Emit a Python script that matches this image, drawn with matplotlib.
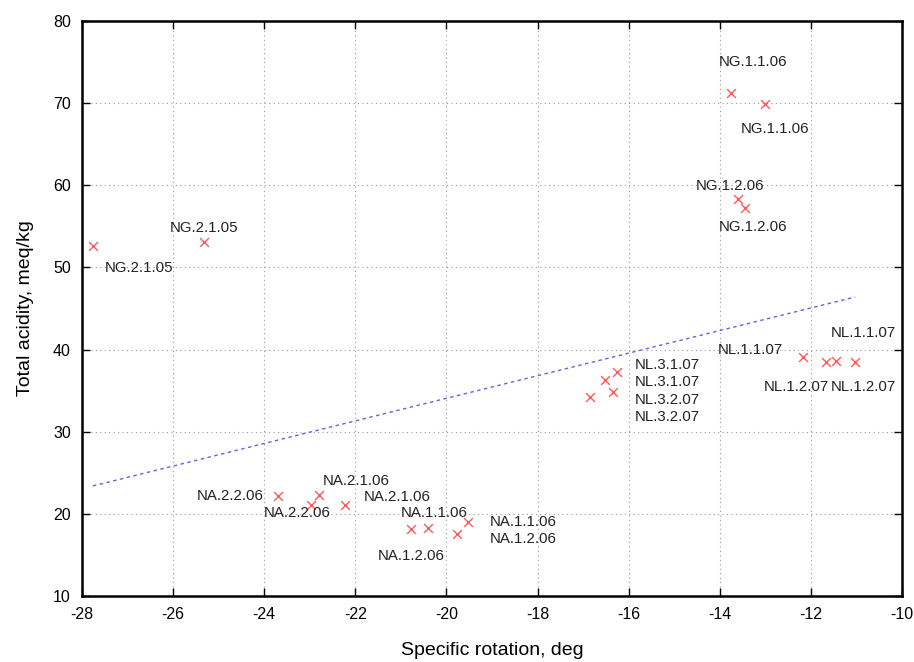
import numpy as np
import matplotlib.pyplot as plt

plt.rcParams['font.family'] = ['Liberation Sans', 'DejaVu Sans']
plt.rcParams['axes.unicode_minus'] = False

# sample points: specific rotation (deg) vs total acidity (meq/kg)
rotation = [-27.76, -25.32, -13.76, -13.01, -13.60, -13.45,
            -12.17, -11.67, -11.45, -11.03,
            -16.26, -16.52, -16.35, -16.85,
            -23.70, -22.97, -22.80, -22.23,
            -20.41, -19.53, -19.77, -20.78]
acidity = [52.6, 53.1, 71.2, 69.9, 58.3, 57.2,
           39.1, 38.5, 38.6, 38.5,
           37.3, 36.3, 34.8, 34.2,
           22.2, 21.05, 22.3, 21.05,
           18.25, 19.0, 17.5, 18.1]
names = ['NG.2.1.05', 'NG.2.1.05', 'NG.1.1.06', 'NG.1.1.06', 'NG.1.2.06', 'NG.1.2.06',
         'NL.1.1.07', 'NL.1.2.07', 'NL.1.2.07', 'NL.1.1.07',
         'NL.3.1.07', 'NL.3.1.07', 'NL.3.2.07', 'NL.3.2.07',
         'NA.2.2.06', 'NA.2.2.06', 'NA.2.1.06', 'NA.2.1.06',
         'NA.1.1.06', 'NA.1.1.06', 'NA.1.2.06', 'NA.1.2.06']

# label placement (pixel offsets from the point, alignment)
offsets = [(12, -22, 'left'), (0, 14, 'center'), (22, 31, 'center'), (10, -25, 'center'),
           (-8, 13, 'center'), (8, -19, 'center'),
           (-53, 7, 'center'), (-30, -25, 'center'), (27, -26, 'center'), (8, 29, 'center'),
           (18, 7, 'left'), (30, -2, 'left'), (22, -8, 'left'), (45, -20, 'left'),
           (-14, 0, 'right'), (-14, -8, 'center'), (37, 14, 'center'), (52, 8, 'center'),
           (6, 15, 'center'), (22, 0, 'left'), (33, -5, 'left'), (0, -27, 'center')]

# regression line end points
trend_x = [-27.76, -11.03]
trend_y = [23.4, 46.4]

fig = plt.figure(figsize=(9.14, 6.62), dpi=100)
ax = fig.add_axes([0.0897, 0.0997, 0.8973, 0.8686])

ax.plot(trend_x, trend_y, linestyle=(0, (2.5, 2.5)), color='#6464d8', linewidth=1.0)
ax.scatter(rotation, acidity, marker='x', s=40, color='#ff5a5a', linewidths=1.0, zorder=3)

for xv, yv, nm, (dx, dy, ha) in zip(rotation, acidity, names, offsets):
    ax.annotate(nm, (xv, yv), xytext=(dx, dy), textcoords='offset pixels',
                ha=ha, va='center', fontsize=10.8, color='#222222')

ax.set_xlim(-28, -10)
ax.set_ylim(10, 80)
ax.set_xticks(np.arange(-28, -9, 2))
ax.set_yticks(np.arange(10, 81, 10))
ax.grid(True, linestyle=(0, (1, 3)), color='#999999', linewidth=0.8)
ax.tick_params(direction='in', top=True, right=True, length=6, width=1,
               labelsize=11.5, pad=8)
for sp in ax.spines.values():
    sp.set_linewidth(1.8)

ax.set_xlabel('Specific rotation, deg', fontsize=14, labelpad=14)
ax.set_ylabel('Total acidity, meq/kg', fontsize=14, labelpad=14)

fig.savefig('out.png', dpi=100)
